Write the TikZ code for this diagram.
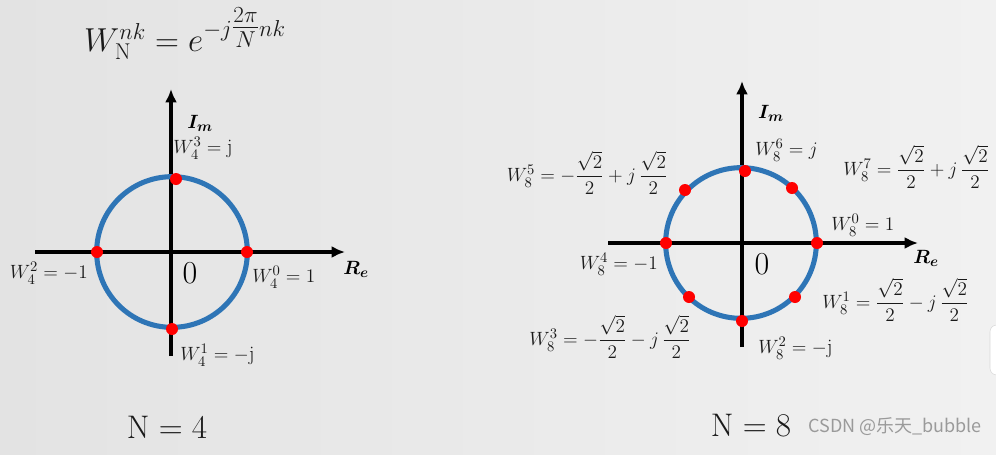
\documentclass[tikz,border=0pt]{standalone}
\usepackage{amsmath,amssymb,bm}
\usepackage{fontspec}
\newfontfamily\cjkwm{Noto Sans CJK SC}
\usetikzlibrary{arrows.meta}
\definecolor{bgL}{HTML}{E3E3E3}
\definecolor{bgR}{HTML}{F1F1F1}
\definecolor{ringblue}{HTML}{2E75B6}
\definecolor{txt}{HTML}{1A1A1A}
\definecolor{wmgray}{HTML}{9A9A9A}
\tikzset{
  axis/.style={line width=3pt, draw=black, -{Latex[length=10pt,width=9pt]}},
  ring/.style={line width=3.8pt, draw=ringblue},
  dot/.style={circle, fill=red, inner sep=0pt, minimum size=9pt},
  lbl/.style={text=txt, inner sep=0pt, font=\fontsize{15.5}{18}\selectfont},
  axlbl/.style={text=black, inner sep=0pt, font=\fontsize{15}{18}\selectfont},
  zero/.style={text=black, inner sep=0pt, font=\fontsize{24}{27}\selectfont},
  big/.style={text=txt, inner sep=0pt, font=\fontsize{24.5}{28}\selectfont},
}
\begin{document}
\begin{tikzpicture}[x=0.75pt,y=-0.75pt]
\useasboundingbox (0,0) rectangle (996,454);
\shade[left color=bgL, right color=bgR] (0,0) rectangle (996,454);
% stray UI shape at the right edge
\filldraw[fill=white, draw=black!15, rounded corners=5pt] (990,325) rectangle (1010,375);

% ---------------- N = 4 ----------------
\node[big] (formula) at (185,34) {$W_{\mathrm{N}}^{nk}=e^{-j\genfrac{}{}{}{1}{2\pi}{N}nk}$};
\coordinate (c4) at (172,252);
\coordinate (h4s) at (35,252);
\coordinate (h4e) at (345,252);
\coordinate (v4s) at (171,356);
\coordinate (v4e) at (171,89);
\draw[axis] (h4s) -- (h4e);
\draw[axis] (v4s) -- (v4e);
\draw[ring] (c4) circle (56.5pt);
\node[dot] (p40) at (247,252) {};
\node[dot] (p41) at (172,329) {};
\node[dot] (p42) at (97,252) {};
\node[dot] (p43) at (176,179) {};
\node[axlbl, anchor=west] (im4) at (187,123) {$\bm{I_m}$};
\node[axlbl, anchor=west] (re4) at (343,269) {$\bm{R_e}$};
\node[zero] (o4) at (190,273) {0};
\node[lbl, anchor=west] (l43) at (173,148) {$W_4^3=\mathrm{j}$};
\node[lbl, anchor=east] (l42) at (88,273) {$W_4^2=-1$};
\node[lbl, anchor=west] (l40) at (252,277) {$W_4^0=1$};
\node[lbl, anchor=west] (l41) at (180,355) {$W_4^1=-\mathrm{j}$};
\node[big] (n4) at (167,427) {$\mathrm{N}=4$};

% ---------------- N = 8 ----------------
\coordinate (c8) at (741,243);
\coordinate (h8s) at (608,243);
\coordinate (h8e) at (918,243);
\coordinate (v8s) at (742,347);
\coordinate (v8e) at (742,81);
\draw[axis] (h8s) -- (h8e);
\draw[axis] (v8s) -- (v8e);
\draw[ring] (c8) circle (56.5pt);
\node[dot] (p80) at (817,243) {};
\node[dot] (p81) at (795,297) {};
\node[dot] (p82) at (742,321) {};
\node[dot] (p83) at (689,297) {};
\node[dot] (p84) at (666,243) {};
\node[dot] (p85) at (685,190) {};
\node[dot] (p86) at (745,171) {};
\node[dot] (p87) at (792,188) {};
\node[axlbl] (im8) at (771,113) {$\bm{I_m}$};
\node[axlbl] (re8) at (926,258) {$\bm{R_e}$};
\node[zero] (o8) at (762,264) {0};
\node[lbl, anchor=west] (l86) at (755,150) {$W_8^6=j$};
\node[lbl, anchor=west] (l87) at (843,167) {$W_8^7=\dfrac{\sqrt{2}}{2}+j\,\dfrac{\sqrt{2}}{2}$};
\node[lbl, anchor=east] (l85) at (668,173) {$W_8^5=-\dfrac{\sqrt{2}}{2}+j\,\dfrac{\sqrt{2}}{2}$};
\node[lbl, anchor=west] (l80) at (831,225) {$W_8^0=1$};
\node[lbl, anchor=east] (l84) at (658,264) {$W_8^4=-1$};
\node[lbl, anchor=west] (l81) at (822,300) {$W_8^1=\dfrac{\sqrt{2}}{2}-j\,\dfrac{\sqrt{2}}{2}$};
\node[lbl, anchor=east] (l83) at (691,337) {$W_8^3=-\dfrac{\sqrt{2}}{2}-j\,\dfrac{\sqrt{2}}{2}$};
\node[lbl, anchor=west] (l82) at (758,348) {$W_8^2=-\mathrm{j}$};
\node[big] (n8) at (751,425) {$\mathrm{N}=8$};

% watermark
\node[anchor=west, inner sep=0pt, text=wmgray, font=\cjkwm\fontsize{13.5}{16}\selectfont] (wm) at (808,427) {CSDN @乐天\_bubble};
\end{tikzpicture}
\end{document}
